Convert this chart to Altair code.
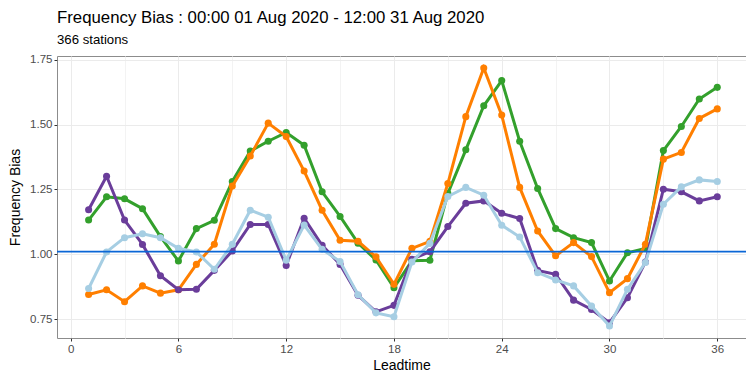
import altair as alt
import pandas as pd

leadtime = list(range(1, 37))
green = [1.132, 1.222, 1.214, 1.176, 1.068, 0.974, 1.099, 1.131, 1.281, 1.398, 1.436, 1.470,
         1.421, 1.241, 1.146, 1.043, 0.978, 0.871, 0.975, 0.977, 1.235, 1.403, 1.573, 1.670,
         1.436, 1.254, 1.099, 1.064, 1.045, 0.897, 1.006, 1.022, 1.400, 1.493, 1.599, 1.644]
orange = [0.845, 0.863, 0.817, 0.878, 0.850, 0.863, 0.961, 1.039, 1.263, 1.379, 1.506, 1.454,
          1.321, 1.170, 1.054, 1.050, 0.990, 0.884, 1.023, 1.050, 1.273, 1.531, 1.719, 1.537,
          1.258, 1.090, 0.994, 1.045, 0.991, 0.852, 0.906, 1.039, 1.367, 1.393, 1.524, 1.561]
purple = [1.172, 1.301, 1.132, 1.038, 0.917, 0.863, 0.865, 0.938, 1.013, 1.115, 1.115, 0.957,
          1.139, 1.035, 0.961, 0.842, 0.778, 0.803, 0.981, 1.010, 1.107, 1.197, 1.206, 1.158,
          1.138, 0.938, 0.923, 0.823, 0.787, 0.736, 0.832, 0.970, 1.251, 1.241, 1.206, 1.222]
lightblue = [0.868, 1.009, 1.064, 1.079, 1.064, 1.023, 1.009, 0.942, 1.039, 1.170, 1.143, 0.977,
             1.113, 1.019, 0.972, 0.844, 0.774, 0.759, 0.970, 1.042, 1.223, 1.258, 1.228, 1.112,
             1.067, 0.929, 0.901, 0.878, 0.800, 0.723, 0.865, 0.968, 1.193, 1.260, 1.287, 1.281]

series_names = ["Model A", "Model B", "Model C", "Model D"]
series_colors = ["#33a02c", "#ff7f00", "#6a3d9a", "#a6cee3"]
series_values = [green, orange, purple, lightblue]
ref_value = [1.01]

rows = []
for order, (name, vals) in enumerate(zip(series_names, series_values)):
    for lt, v in zip(leadtime, vals):
        rows.append({"model": name, "order": order, "leadtime": lt, "bias": v})
df = pd.DataFrame(rows)

FONT = "Liberation Sans"

x_scale = alt.Scale(domain=[-0.76, 37.6], nice=False, zero=False)
y_scale = alt.Scale(domain=[0.677, 1.765], nice=False, zero=False)

x_axis = alt.Axis(
    values=list(range(0, 37, 3)),
    labelExpr="datum.value % 6 == 0 ? datum.label : ''",
    tickOpacity=alt.condition("datum.value % 6 == 0", alt.value(1), alt.value(0)),
    gridColor=alt.condition("datum.value % 6 == 0", alt.value("#ebebeb"), alt.value("#f3f3f3")),
    title="Leadtime",
)
y_axis = alt.Axis(
    values=[0.75, 0.875, 1.0, 1.125, 1.25, 1.375, 1.5, 1.625, 1.75],
    labelExpr="round(datum.value * 8) % 2 == 0 ? format(datum.value, '.2f') : ''",
    tickOpacity=alt.condition("round(datum.value * 8) % 2 == 0", alt.value(1), alt.value(0)),
    gridColor=alt.condition("round(datum.value * 8) % 2 == 0", alt.value("#ebebeb"), alt.value("#f3f3f3")),
    title="Frequency Bias",
)

color = alt.Color("model:N", scale=alt.Scale(domain=series_names, range=series_colors), legend=None)

base = alt.Chart(df).encode(
    x=alt.X("leadtime:Q", scale=x_scale, axis=x_axis),
    y=alt.Y("bias:Q", scale=y_scale, axis=y_axis),
    color=color,
    order=alt.Order("order:Q"),
)

layers = []
for name in series_names:
    sub = base.transform_filter(alt.datum.model == name)
    layers.append(sub.mark_line(strokeWidth=3))
    layers.append(sub.mark_circle(size=50, opacity=1))

hline = alt.Chart(pd.DataFrame({"ref": ref_value})).mark_rule(
    color="#0a66d6", strokeWidth=1.8
).encode(y=alt.Y("ref:Q", scale=y_scale))

chart = alt.layer(*layers, hline).properties(
    width=689,
    height=282,
    autosize=alt.AutoSizeParams(type="none"),
    padding={"left": 57, "top": 56, "right": 0, "bottom": 35},
    title=alt.TitleParams(
        text="Frequency Bias : 00:00 01 Aug 2020 - 12:00 31 Aug 2020",
        subtitle="366 stations",
        anchor="start",
        frame="group",
        font=FONT,
        fontSize=16.8,
        fontWeight="normal",
        color="#000000",
        subtitleFont=FONT,
        subtitleFontSize=13.2,
        subtitleColor="#000000",
        subtitlePadding=7,
        offset=8,
    ),
).configure_view(
    stroke="#8c8c8c", strokeWidth=1
).configure_axis(
    labelFont=FONT,
    labelFontSize=11.5,
    labelColor="#4d4d4d",
    titleFont=FONT,
    titleFontSize=14,
    titleFontWeight="normal",
    titleColor="#000000",
    tickColor="#333333",
    tickSize=3,
    labelPadding=2,
    domain=False,
    grid=True,
    gridWidth=1,
).configure_axisX(
    titlePadding=4,
).configure_axisY(
    titlePadding=7,
)

chart.save("out.html", embed_options={"renderer": "svg", "actions": False})
